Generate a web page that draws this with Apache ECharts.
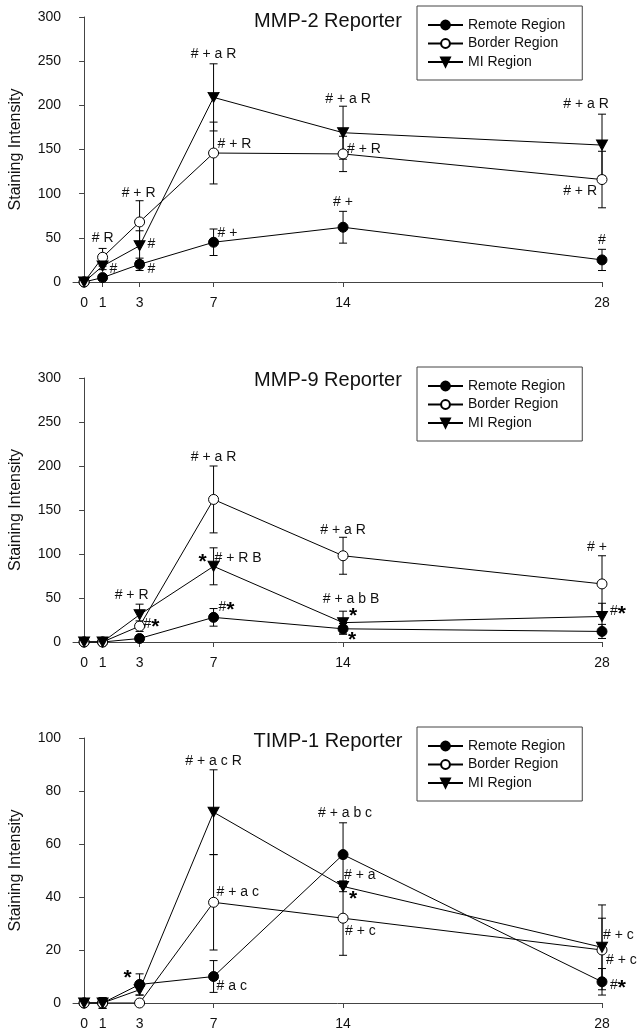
<!DOCTYPE html>
<html>
<head>
<meta charset="utf-8">
<title>Reporter staining</title>
<script src="https://cdn.jsdelivr.net/npm/echarts@6/dist/echarts.min.js"></script>
<style>
  html, body { margin: 0; padding: 0; background: #fff; }
  #chart { width: 643px; height: 1035px; }
</style>
</head>
<body>
<div id="chart"></div>
<script>
// days after MI
const days = [0, 1, 3, 7, 14, 28]
const dayTicks = [0, 1, 3, 7, 14, 28]
const regionNames = ['Remote Region', 'Border Region', 'MI Region']

// MMP-2 reporter
const mmp2Remote = [0, 5, 20, 45, 62, 25]
const mmp2RemoteErr = [0, 3, 7, 15, 18, 12]
const mmp2Border = [0, 28, 68, 146, 145, 116]
const mmp2BorderErr = [0, 10, 24, 35, 20, 32]
const mmp2Mi = [0, 18, 41, 209, 169, 155]
const mmp2MiErr = [0, 4, 17, 38, 30, 35]

// MMP-9 reporter
const mmp9Remote = [0, 0, 4, 28, 15, 12]
const mmp9RemoteErr = [0, 0, 2, 10, 6, 8]
const mmp9Border = [0, 0, 18, 162, 98, 66]
const mmp9BorderErr = [0, 0, 6, 38, 21, 32]
const mmp9Mi = [0, 0, 31, 86, 22, 29]
const mmp9MiErr = [0, 0, 12, 21, 13, 15]

// TIMP-1 reporter
const timpRemote = [0, 0, 7, 10, 56, 8]
const timpRemoteErr = [0, 2, 4, 6, 12, 5]
const timpBorder = [0, 0, 0, 38, 32, 20]
const timpBorderErr = [0, 0, 0, 18, 14, 12]
const timpMi = [0, 0, 5, 72, 44, 21]
const timpMiErr = [0, 2, 2, 16, 2, 16]

// significance notes: [region, day index, text]
const mmp2Notes = [
  ['mi', 1, '#'], ['border', 1, '# R'],
  ['border', 2, '# + R'], ['mi', 2, '#'], ['remote', 2, '#'],
  ['mi', 3, '# + a R'], ['border', 3, '# + R'], ['remote', 3, '# +'],
  ['mi', 4, '# + a R'], ['border', 4, '# + R'], ['remote', 4, '# +'],
  ['mi', 5, '# + a R'], ['border', 5, '# + R'], ['remote', 5, '#']
]
const mmp9Notes = [
  ['mi', 2, '# + R'], ['border', 2, '#*'],
  ['mi', 3, '*'], ['mi', 3, '# + R B'], ['border', 3, '# + a R'], ['remote', 3, '#*'],
  ['border', 4, '# + a R'], ['mi', 4, '# + a b B'], ['mi', 4, '*'], ['remote', 4, '*'],
  ['border', 5, '# +'], ['mi', 5, '#*']
]
const timpNotes = [
  ['remote', 2, '*'],
  ['mi', 3, '# + a c R'], ['border', 3, '# + a c'], ['remote', 3, '# a c'],
  ['remote', 4, '# + a b c'], ['mi', 4, '# + a'], ['mi', 4, '*'], ['border', 4, '# + c'],
  ['mi', 5, '# + c'], ['border', 5, '# + c'], ['remote', 5, '#*']
]

// where each note sits relative to its point: [dx, dy, align]
const mmp2NotePos = [
  [7, 3, 'left'], [0, -19, 'center'],
  [-1, -29, 'center'], [8, -2, 'left'], [8, 5, 'left'],
  [0, -43, 'center'], [4, -9, 'left'], [4, -9, 'left'],
  [5, -34, 'center'], [4, -5, 'left'], [0, -25, 'center'],
  [-16, -41, 'center'], [-5, 12, 'right'], [0, -20, 'center']
]
const mmp9NotePos = [
  [-8, -20, 'center'], [4, -2, 'left'],
  [-11, -7, 'center'], [1, -8, 'left'], [0, -42, 'center'], [5, -10, 'left'],
  [0, -26, 'center'], [8, -23, 'center'], [10, -9, 'center'], [9, 8, 'center'],
  [-5, -37, 'center'], [8, -5, 'left']
]
const timpNotePos = [
  [-12, -9, 'center'],
  [0, -51, 'center'], [3, -10, 'left'], [3, 10, 'left'],
  [2, -41, 'center'], [1, -11, 'left'], [10, 10, 'center'], [2, 13, 'left'],
  [1, -12, 'left'], [4, 10, 'left'], [8, 3, 'left']
]

const FONT = '"Liberation Sans", Arial, sans-serif'
const NOTE_FONT = '14px ' + FONT
const STAR_FONT = 'bold 21px ' + FONT

const panels = [
  {
    title: 'MMP-2 Reporter', top: 17, height: 265, titleTop: 6, legendTop: 6, yMax: 300, yStep: 50,
    values: { remote: mmp2Remote, border: mmp2Border, mi: mmp2Mi },
    errs: { remote: mmp2RemoteErr, border: mmp2BorderErr, mi: mmp2MiErr },
    notes: mmp2Notes, notePos: mmp2NotePos
  },
  {
    title: 'MMP-9 Reporter', top: 378, height: 264, titleTop: 365, legendTop: 367, yMax: 300, yStep: 50,
    values: { remote: mmp9Remote, border: mmp9Border, mi: mmp9Mi },
    errs: { remote: mmp9RemoteErr, border: mmp9BorderErr, mi: mmp9MiErr },
    notes: mmp9Notes, notePos: mmp9NotePos
  },
  {
    title: 'TIMP-1 Reporter', top: 738, height: 265, titleTop: 726, legendTop: 727, yMax: 100, yStep: 20,
    values: { remote: timpRemote, border: timpBorder, mi: timpMi },
    errs: { remote: timpRemoteErr, border: timpBorderErr, mi: timpMiErr },
    notes: timpNotes, notePos: timpNotePos
  }
]

const regionKeys = ['remote', 'border', 'mi']
const regionStyle = {
  remote: { symbol: 'circle', symbolSize: 10, itemStyle: { color: '#000', borderColor: '#000', borderWidth: 1 } },
  border: { symbol: 'circle', symbolSize: 10, itemStyle: { color: '#fff', borderColor: '#000', borderWidth: 1 } },
  mi: { symbol: 'path://M0,0L10,0L5,9Z', symbolSize: [11, 10], itemStyle: { color: '#000', borderColor: '#000', borderWidth: 1 } }
}

// text widths, so a bold star can follow a '#'
const measureCtx = document.createElement('canvas').getContext('2d')
const textWidth = (s, font) => {
  measureCtx.font = font
  return measureCtx.measureText(s).width
}

const renderErr = (params, api) => {
  const x = api.value(0)
  const lo = api.coord([x, api.value(1)])
  const hi = api.coord([x, api.value(2)])
  const w = 4
  const style = { stroke: '#000', lineWidth: 1 }
  return {
    type: 'group',
    children: [
      { type: 'line', shape: { x1: lo[0], y1: lo[1], x2: hi[0], y2: hi[1] }, style },
      { type: 'line', shape: { x1: lo[0] - w, y1: lo[1], x2: lo[0] + w, y2: lo[1] }, style },
      { type: 'line', shape: { x1: hi[0] - w, y1: hi[1], x2: hi[0] + w, y2: hi[1] }, style }
    ]
  }
}

const makeNoteRenderer = (notes, pos) => (params, api) => {
  const p = api.coord([api.value(0), api.value(1)])
  const [dx, dy, align] = pos[params.dataIndex]
  const parts = notes[params.dataIndex][2].split(/(\*)/).filter(s => s !== '')
  const widths = parts.map(s => textWidth(s, s === '*' ? STAR_FONT : NOTE_FONT))
  const total = widths.reduce((a, b) => a + b, 0)
  let x = p[0] + dx
  if (align === 'center') x -= total / 2
  else if (align === 'right') x -= total
  const y = p[1] + dy
  const children = parts.map((s, k) => {
    const star = s === '*'
    const el = {
      type: 'text',
      x: x,
      y: star ? y + 3 : y,
      style: {
        text: s,
        align: 'left',
        verticalAlign: 'middle',
        font: star ? STAR_FONT : NOTE_FONT,
        fill: star ? '#000' : '#111'
      }
    }
    x += widths[k]
    return el
  })
  return { type: 'group', children }
}

const option = {
  animation: false,
  backgroundColor: '#fff',
  title: [],
  legend: [],
  grid: [],
  xAxis: [],
  yAxis: [],
  series: []
}

panels.forEach((pn, i) => {
  option.title.push({
    text: pn.title,
    left: 323,
    textAlign: 'center',
    top: pn.titleTop,
    textStyle: { fontFamily: FONT, fontSize: 20, fontWeight: 'normal', color: '#111' }
  })
  option.legend.push({
    data: regionNames,
    orient: 'vertical',
    left: 417,
    top: pn.legendTop,
    padding: [12, 17, 11, 10],
    itemGap: 4.5,
    itemWidth: 35,
    itemHeight: 11,
    borderColor: '#444',
    borderWidth: 1,
    selectedMode: false,
    textStyle: { fontFamily: FONT, fontSize: 14, color: '#111', lineHeight: 14 }
  })
  option.grid.push({ left: 72, right: 41, top: pn.top, height: pn.height })
  option.xAxis.push({
    type: 'value',
    gridIndex: i,
    min: -0.6,
    max: 28,
    splitLine: { show: false },
    axisLine: { lineStyle: { color: '#444', width: 1 } },
    axisTick: { show: true, customValues: dayTicks, length: 5, lineStyle: { color: '#444' } },
    axisLabel: { customValues: dayTicks, margin: 14, fontFamily: FONT, fontSize: 14, color: '#111' }
  })
  option.yAxis.push({
    type: 'value',
    gridIndex: i,
    min: 0,
    max: pn.yMax,
    interval: pn.yStep,
    name: 'Staining Intensity',
    nameLocation: 'middle',
    nameGap: 49,
    nameTextStyle: { fontFamily: FONT, fontSize: 16, color: '#111' },
    splitLine: { show: false },
    axisLine: { show: true, lineStyle: { color: '#444', width: 1 } },
    axisTick: { show: true, length: 5, lineStyle: { color: '#444' } },
    axisLabel: { margin: 12, fontFamily: FONT, fontSize: 14, color: '#111' }
  })

  // error bars, under the markers
  const errData = []
  regionKeys.forEach(k => {
    days.forEach((d, j) => {
      const v = pn.values[k][j]
      const e = pn.errs[k][j]
      if (e > 0) errData.push([d, v - e, v + e])
    })
  })
  option.series.push({
    type: 'custom',
    xAxisIndex: i,
    yAxisIndex: i,
    z: 1,
    silent: true,
    renderItem: renderErr,
    encode: { x: 0, y: [1, 2] },
    data: errData
  })

  regionKeys.forEach((k, r) => {
    const st = regionStyle[k]
    option.series.push({
      name: regionNames[r],
      type: 'line',
      xAxisIndex: i,
      yAxisIndex: i,
      z: 3 + r,
      symbol: st.symbol,
      symbolSize: st.symbolSize,
      showSymbol: true,
      symbolKeepAspect: false,
      lineStyle: { color: '#000', width: 1 },
      itemStyle: st.itemStyle,
      data: days.map((d, j) => [d, pn.values[k][j]])
    })
  })

  option.series.push({
    type: 'custom',
    xAxisIndex: i,
    yAxisIndex: i,
    z: 10,
    silent: true,
    clip: false,
    renderItem: makeNoteRenderer(pn.notes, pn.notePos),
    data: pn.notes.map(n => [days[n[1]], pn.values[n[0]][n[1]]])
  })
})

const chart = echarts.init(document.getElementById('chart'))
chart.setOption(option)
</script>
</body>
</html>
